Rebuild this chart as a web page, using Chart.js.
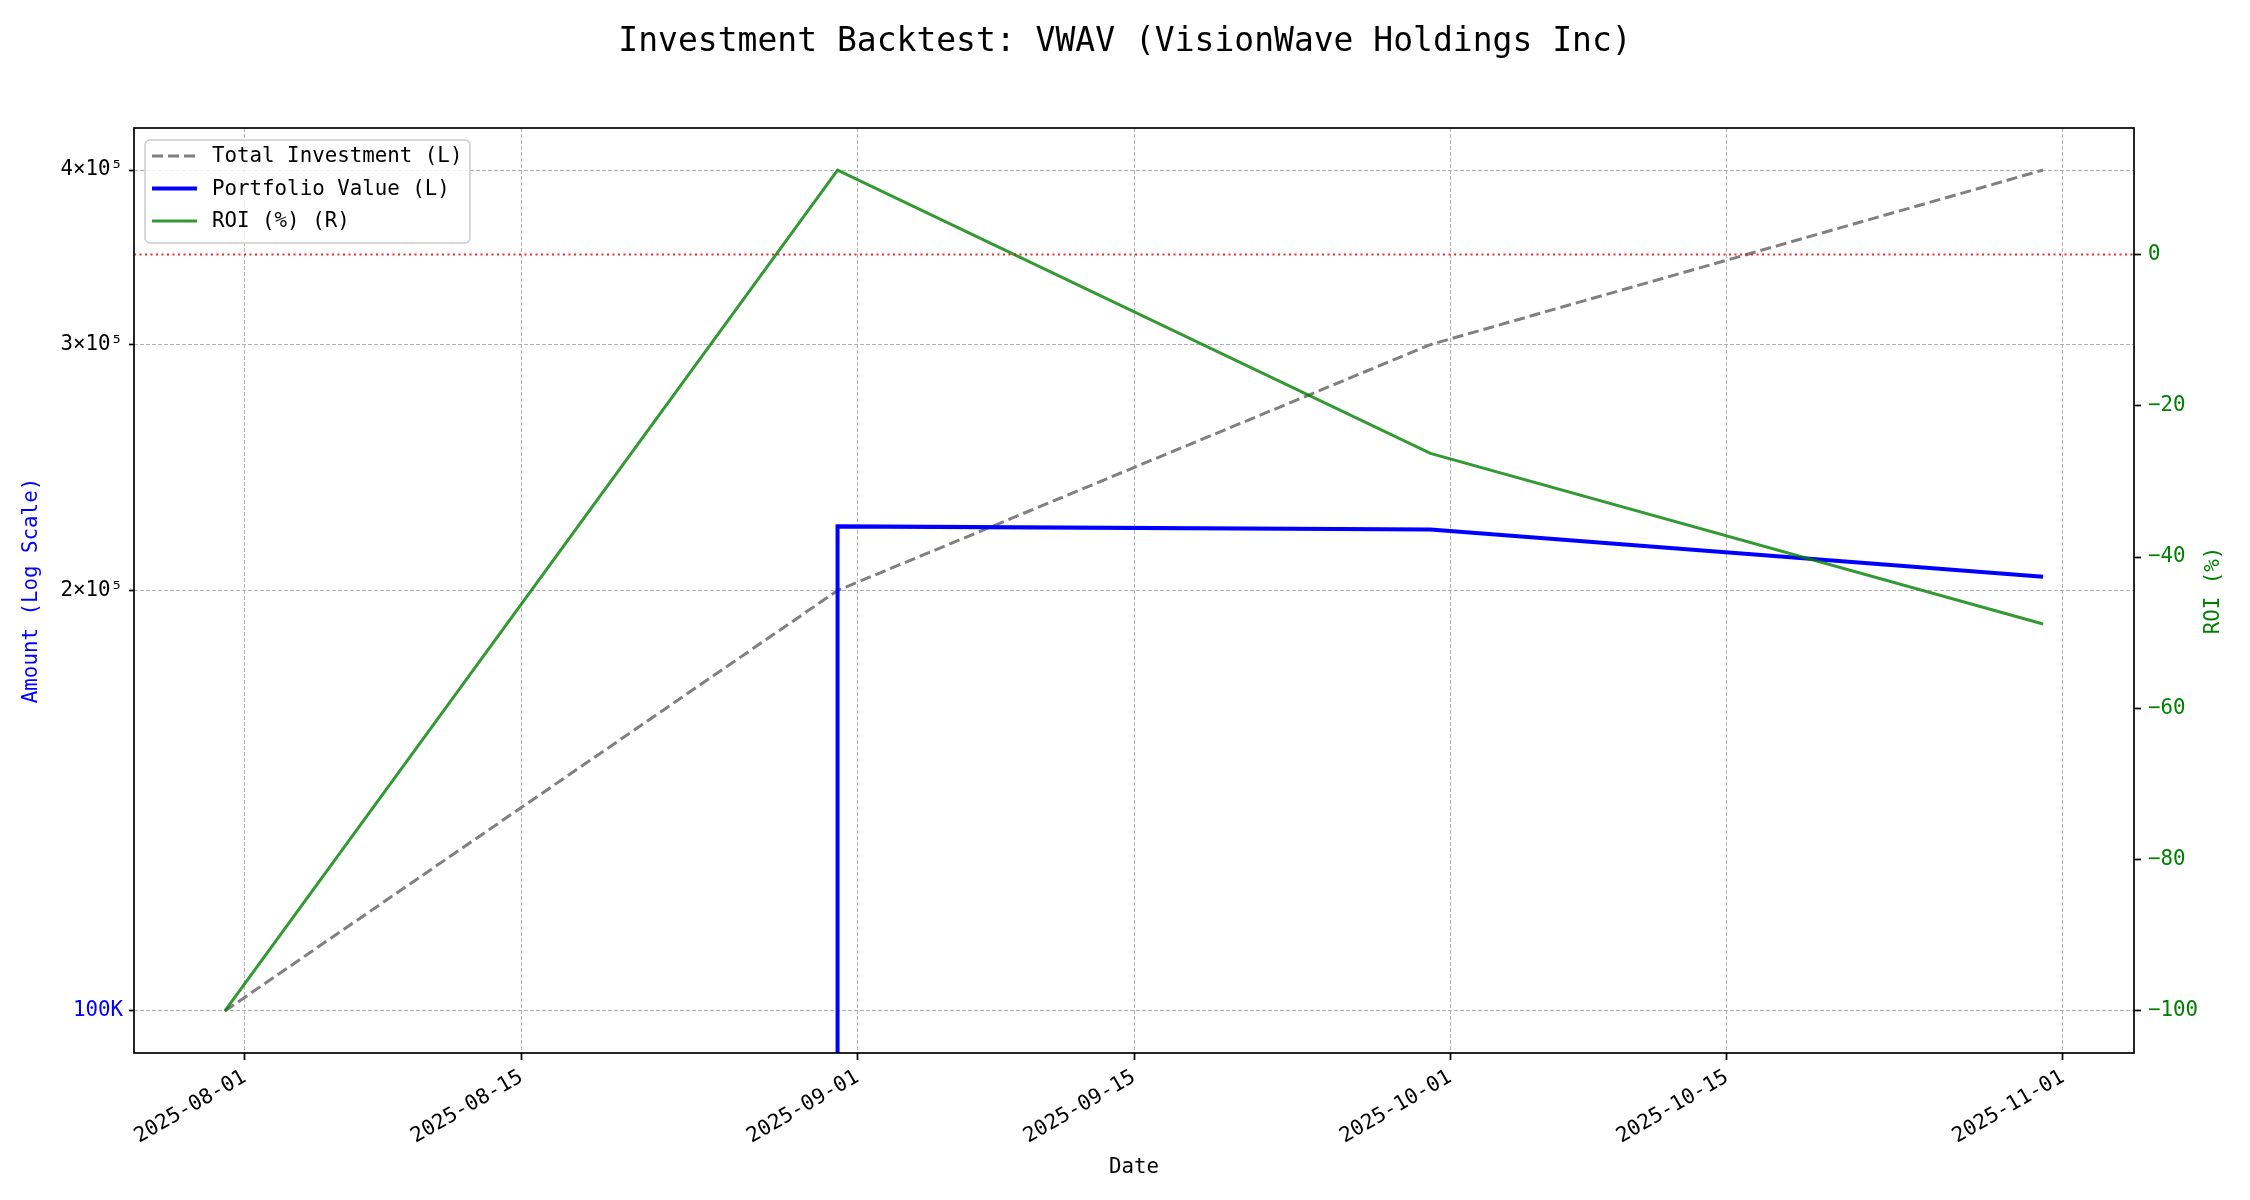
<!DOCTYPE html>
<html>
<head>
<meta charset="utf-8">
<script src="https://cdn.jsdelivr.net/npm/chart.js@4.4.1/dist/chart.umd.min.js"></script>
<style>
  html, body { margin: 0; padding: 0; background: #fff; }
  #wrap { width: 2250px; height: 1200px; }
</style>
</head>
<body>
<div id="wrap"><canvas id="myChart" width="2250" height="1200"></canvas></div>
<script>
// values
const dates = ['2025-07-31', '2025-08-31', '2025-09-30', '2025-10-31'];
const totalInvestment = [100000, 200000, 300000, 400000];
const portfolioValue = [0, 222300, 221200, 204600];
const roiPct = [-100, 11.15, -26.3, -48.85];

const xTickDates = ['2025-08-01', '2025-08-15', '2025-09-01', '2025-09-15', '2025-10-01', '2025-10-15', '2025-11-01'];
const leftTicks = [100000, 200000, 300000, 400000];
const rightTicks = [0, -20, -40, -60, -80, -100];

const FONT = "'DejaVu Sans Mono', 'Liberation Mono', monospace";

function toMs(d) { return Date.parse(d + 'T00:00:00Z'); }

const xs = dates.map(toMs);
const xPad = (xs[xs.length - 1] - xs[0]) * 0.05;

const minL = Math.min(...totalInvestment), maxL = Math.max(...totalInvestment);
const logPad = (Math.log10(maxL) - Math.log10(minL)) * 0.05;
const yMinL = Math.pow(10, Math.log10(minL) - logPad);
const yMaxL = Math.pow(10, Math.log10(maxL) + logPad);
const minR = Math.min(...roiPct), maxR = Math.max(...roiPct);
const rPad = (maxR - minR) * 0.05;

// on a log axis a non-positive value falls straight off the bottom,
// so the segment drops vertically at the neighbouring date (as matplotlib draws it)
function portfolioPoints() {
	return xs.map((x, i) => {
		const v = portfolioValue[i];
		if (v > 0) return {x, y: v};
		let j = i + 1;
		while (j < xs.length && !(portfolioValue[j] > 0)) j++;
		return {x: j < xs.length ? xs[j] : x, y: yMinL / 10};
	});
}

const supers = {'0':'⁰','1':'¹','2':'²','3':'³','4':'⁴','5':'⁵','6':'⁶','7':'⁷','8':'⁸','9':'⁹'};
function sciLabel(v) {
	if (v === 100000) return '100K';
	const e = Math.floor(Math.log10(v));
	const m = Math.round(v / Math.pow(10, e));
	return m + '×10' + String(e).split('').map(c => supers[c]).join('');
}

const extras = {
	id: 'extras',
	afterDatasetsDraw(chart) {
		const {ctx, chartArea: a, scales} = chart;
		// zero line on ROI axis
		const y0 = scales.y2.getPixelForValue(0);
		ctx.save();
		ctx.beginPath();
		ctx.rect(a.left, a.top, a.right - a.left, a.bottom - a.top);
		ctx.clip();
		ctx.strokeStyle = 'rgba(225,10,10,0.85)';
		ctx.lineWidth = 2;
		ctx.setLineDash([2, 3.5]);
		ctx.beginPath();
		ctx.moveTo(a.left, y0);
		ctx.lineTo(a.right, y0);
		ctx.stroke();
		ctx.restore();

		// frame
		ctx.save();
		ctx.strokeStyle = '#000';
		ctx.lineWidth = 1.7;
		ctx.strokeRect(a.left, a.top, a.right - a.left, a.bottom - a.top);
		ctx.restore();

		// legend, upper left
		const items = [
			{label: 'Total Investment (L)', ds: chart.data.datasets[0]},
			{label: 'Portfolio Value (L)', ds: chart.data.datasets[1]},
			{label: 'ROI (%) (R)', ds: chart.data.datasets[2]}
		];
		const bx = a.left + 11, by = a.top + 12, bw = 325, bh = 103;
		ctx.save();
		ctx.fillStyle = 'rgba(255,255,255,0.8)';
		ctx.strokeStyle = '#cccccc';
		ctx.lineWidth = 1.5;
		ctx.beginPath();
		ctx.roundRect(bx, by, bw, bh, 5);
		ctx.fill();
		ctx.stroke();
		ctx.font = '20.8px ' + FONT;
		ctx.textBaseline = 'middle';
		ctx.textAlign = 'left';
		items.forEach((it, i) => {
			const cy = by + 16 + i * 32.5;
			ctx.strokeStyle = it.ds.borderColor;
			ctx.lineWidth = it.ds.borderWidth;
			ctx.setLineDash(it.ds.borderDash || []);
			ctx.beginPath();
			ctx.moveTo(bx + 7, cy);
			ctx.lineTo(bx + 52, cy);
			ctx.stroke();
			ctx.setLineDash([]);
			ctx.fillStyle = '#000';
			ctx.fillText(it.label, bx + 67, cy + 1);
		});
		ctx.restore();
	},
	afterDraw(chart) {
		const {ctx, chartArea: a} = chart;
		ctx.save();
		ctx.fillStyle = '#000';
		ctx.font = '33px ' + FONT;
		ctx.textAlign = 'center';
		ctx.textBaseline = 'middle';
		ctx.fillText('Investment Backtest: VWAV (VisionWave Holdings Inc)', chart.width / 2, 42);
		// right axis title, reading bottom to top
		ctx.translate(2214, (a.top + a.bottom) / 2);
		ctx.rotate(-Math.PI / 2);
		ctx.fillStyle = '#008000';
		ctx.font = '20.8px ' + FONT;
		ctx.fillText('ROI (%)', 0, 0);
		ctx.restore();
	}
};

const gridDash = {
	display: true,
	drawOnChartArea: true,
	color: 'rgba(170,170,170,0.9)',
	lineWidth: 1,
	tickColor: '#000',
	tickWidth: 1.7,
	tickBorderDash: [],
	tickLength: 7
};

new Chart(document.getElementById('myChart'), {
	type: 'line',
	data: {
		datasets: [
			{
				label: 'Total Investment (L)',
				data: xs.map((x, i) => ({x, y: totalInvestment[i]})),
				yAxisID: 'y',
				borderColor: '#808080',
				borderWidth: 3,
				borderDash: [11, 5],
				pointRadius: 0,
				tension: 0,
				clip: 0,
				order: 2
			},
			{
				label: 'Portfolio Value (L)',
				data: portfolioPoints(),
				yAxisID: 'y',
				borderColor: '#0000ff',
				borderWidth: 4,
				pointRadius: 0,
				tension: 0,
				clip: 0,
				order: 1
			},
			{
				label: 'ROI (%) (R)',
				data: xs.map((x, i) => ({x, y: roiPct[i]})),
				yAxisID: 'y2',
				borderColor: 'rgba(0,128,0,0.8)',
				borderWidth: 3,
				pointRadius: 0,
				tension: 0,
				clip: 0,
				order: 0
			}
		]
	},
	options: {
		responsive: false,
		animation: false,
		devicePixelRatio: 1,
		layout: { padding: { top: 128, left: 0, right: 0, bottom: 0 } },
		plugins: { legend: { display: false }, title: { display: false }, tooltip: { enabled: false } },
		scales: {
			x: {
				type: 'linear',
				min: xs[0] - xPad,
				max: xs[xs.length - 1] + xPad,
				afterBuildTicks: (s) => { s.ticks = xTickDates.map(d => ({value: toMs(d)})); },
				afterFit: (s) => { s.height = 147; },
				grid: gridDash,
				border: { display: false, dash: [4, 2] },
				ticks: {
					autoSkip: false,
					minRotation: 30,
					maxRotation: 30,
					padding: 5,
					color: '#000',
					font: { family: FONT, size: 20.8 },
					callback: (v) => new Date(v).toISOString().slice(0, 10)
				},
				title: {
					display: true,
					text: 'Date',
					color: '#000',
					font: { family: FONT, size: 20.8 },
					padding: { top: 0, bottom: 20 }
				}
			},
			y: {
				type: 'logarithmic',
				position: 'left',
				min: yMinL,
				max: yMaxL,
				afterBuildTicks: (s) => { s.ticks = leftTicks.map(v => ({value: v})); },
				afterFit: (s) => { s.width = 134; },
				grid: Object.assign({}, gridDash, { tickLength: 5 }),
				border: { display: false, dash: [4, 2] },
				ticks: {
					autoSkip: false,
					padding: 6,
					color: (c) => c.tick && c.tick.value === 100000 ? '#0000ff' : '#000',
					font: { family: FONT, size: 20.8 },
					callback: (v) => sciLabel(v)
				},
				title: {
					display: true,
					text: 'Amount (Log Scale)',
					color: '#0000ff',
					font: { family: FONT, size: 20.8 },
					padding: { top: 19, bottom: 0 }
				}
			},
			y2: {
				type: 'linear',
				position: 'right',
				min: minR - rPad,
				max: maxR + rPad,
				afterBuildTicks: (s) => { s.ticks = rightTicks.map(v => ({value: v})); },
				afterFit: (s) => { s.width = 116; },
				grid: { display: true, drawOnChartArea: false, tickColor: '#000', tickWidth: 1.7, tickLength: 7 },
				border: { display: false },
				ticks: {
					autoSkip: false,
					padding: 7,
					color: '#008000',
					font: { family: FONT, size: 20.8 },
					callback: (v) => String(v).replace('-', '−')
				},
				title: { display: false }
			}
		}
	},
	plugins: [extras]
});
</script>
</body>
</html>
